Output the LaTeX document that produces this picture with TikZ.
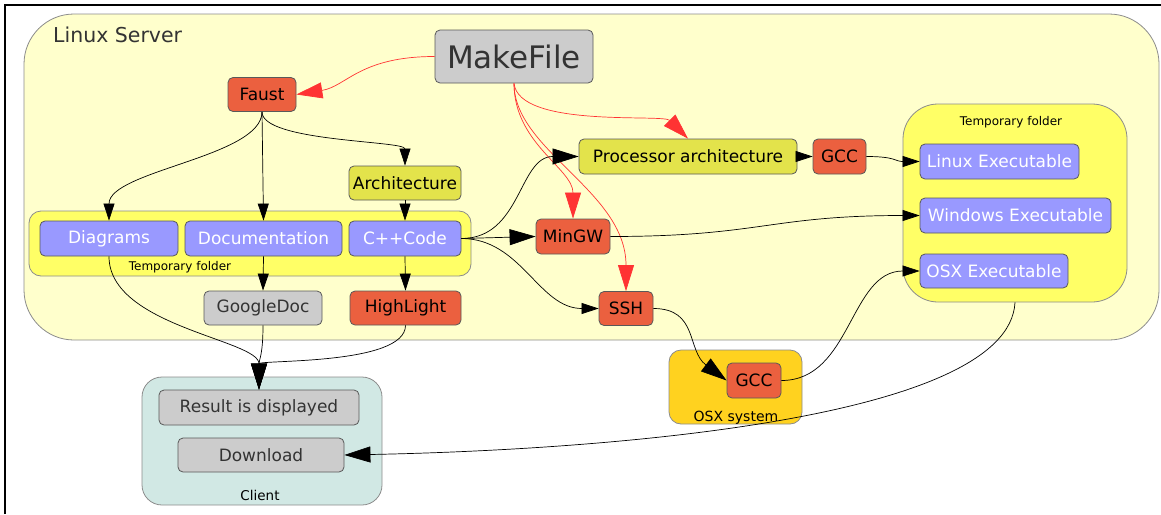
\documentclass[tikz,border=0pt]{standalone}
\usepackage{fontspec}
\setmainfont{DejaVu Sans}
\usetikzlibrary{arrows.meta}
\definecolor{serverfill}{HTML}{FFFFCC}
\definecolor{tmpfill}{HTML}{FFFF66}
\definecolor{bluefill}{HTML}{9999FF}
\definecolor{redfill}{HTML}{EB603F}
\definecolor{olivefill}{HTML}{E3E34B}
\definecolor{grayfill}{HTML}{CCCCCC}
\definecolor{goldfill}{HTML}{FFD21F}
\definecolor{clientfill}{HTML}{D1E8E4}
\definecolor{redline}{HTML}{FF3333}
\definecolor{graytext}{HTML}{333333}
\begin{document}
\begin{tikzpicture}[x=1pt,y=-1pt]
      \tikzstyle{every node}+=[inner sep=0pt]
      \tikzstyle{group}=[draw=black!45,line width=0.8pt]
      \tikzstyle{box}=[draw=black!65,line width=0.8pt,rounded corners=5pt,minimum height=34pt,font=\fontsize{17}{20}\selectfont]
      \tikzstyle{redbox}=[box,fill=redfill]
      \tikzstyle{olivebox}=[box,fill=olivefill]
      \tikzstyle{bluebox}=[box,fill=bluefill,text=white]
      \tikzstyle{graybox}=[box,fill=grayfill,text=graytext]
      \tikzstyle{grouplabel}=[anchor=base,font=\fontsize{12}{14}\selectfont]
      \tikzstyle{link}=[line width=0.7pt,-{Triangle[length=17pt,width=11pt]}]
      \tikzstyle{biglink}=[line width=0.7pt,-{Triangle[length=26pt,width=16pt]}]
      \tikzstyle{redlink}=[biglink,draw=redline]
      \useasboundingbox (0,0) rectangle (1161,514);
      \draw [line width=1.5pt] (5,514) -- (5,5) -- (1161,5);
      \node (server) [group,fill=serverfill,rounded corners=50pt,minimum width=1135pt,minimum height=326pt] at (591.5,177) {};
      \node (serverlabel) [anchor=base west,text=graytext,font=\fontsize{20.5}{24}\selectfont] at (53,42) {Linux Server};
      \node (tmpleft) [group,fill=tmpfill,rounded corners=12pt,minimum width=442pt,minimum height=65pt] at (250,243.5) {};
      \node (tmpleftlabel) [grouplabel] at (180,270) {Temporary folder};
      \node (tmpright) [group,fill=tmpfill,rounded corners=35pt,minimum width=224pt,minimum height=198pt] at (1015,203) {};
      \node (tmprightlabel) [grouplabel] at (1011,125) {Temporary folder};
      \node (osxsys) [group,fill=goldfill,rounded corners=12pt,minimum width=133pt,minimum height=74pt] at (735.5,387) {};
      \node (osxsyslabel) [grouplabel,font=\fontsize{14}{16}\selectfont] at (736,421) {OSX system};
      \node (client) [group,fill=clientfill,rounded corners=20pt,minimum width=240pt,minimum height=128pt] at (262,441) {};
      \node (clientlabel) [grouplabel,font=\fontsize{13.5}{16}\selectfont] at (260,500) {Client};
      \node (makefile) [graybox,minimum width=158pt,minimum height=53pt,font=\fontsize{31}{36}\selectfont] at (514,56.5) {MakeFile};
      \node (faust) [redbox,minimum width=68pt] at (262,94.5) {Faust};
      \node (arch) [olivebox,minimum width=112pt] at (405,183) {Architecture};
      \node (diagrams) [bluebox,minimum width=138pt,minimum height=35pt] at (109,238.5) {Diagrams};
      \node (doc) [bluebox,minimum width=157pt,minimum height=35pt] at (263.5,238.5) {Documentation};
      \node (cpp) [bluebox,minimum width=112pt,minimum height=35pt] at (405,238.5) {C++Code};
      \node (googledoc) [graybox,minimum width=118pt] at (263,308) {GoogleDoc};
      \node (highlight) [redbox,minimum width=111pt] at (405.5,308) {HighLight};
      \node (procarch) [olivebox,minimum width=218pt,minimum height=35pt] at (688,156.5) {Processor architecture};
      \node (gcc) [redbox,minimum width=53pt,minimum height=35pt] at (839.5,156.5) {GCC};
      \node (mingw) [redbox,minimum width=74pt,minimum height=35pt] at (573,236.5) {MinGW};
      \node (ssh) [redbox,minimum width=54pt] at (626,308.5) {SSH};
      \node (linuxexe) [bluebox,minimum width=159pt,minimum height=35pt] at (999.5,161.5) {Linux Executable};
      \node (winexe) [bluebox,minimum width=191pt,minimum height=35pt] at (1015.5,215.5) {Windows Executable};
      \node (osxexe) [bluebox,minimum width=148pt] at (994,271) {OSX Executable};
      \node (osxgcc) [redbox,minimum width=54pt,minimum height=35pt] at (754,380.5) {GCC};
      \node (result) [graybox,minimum width=200pt,minimum height=35pt] at (259,407.5) {Result is displayed};
      \node (download) [graybox,minimum width=166pt] at (261,455) {Download};
      \draw [redlink] (makefile.west) .. controls +(-75,0) and +(50,-8) .. (faust.east);
      \draw [redlink] (makefile.south) .. controls +(5,45) and +(-25,-25) .. (procarch.north);
      \draw [redlink] (makefile.south) .. controls +(0,60) and +(0,-50) .. (mingw.north);
      \draw [redlink] (makefile.south) .. controls +(0,67) and +(0,-100) .. (ssh.north);
      \draw [link] (faust.south) .. controls +(0,45) and +(0,-50) .. (diagrams.north);
      \draw [link] (faust.south) -- (doc.north);
      \draw [link] (faust.south) .. controls +(0,30) and +(0,-25) .. (arch.north);
      \draw [link] (arch.south) -- (cpp.north);
      \draw [link] (doc.south) -- (googledoc.north);
      \draw [link] (cpp.south) -- (highlight.north);
      \draw [biglink] (cpp.east) .. controls +(60,0) and +(-60,0) .. (procarch.west);
      \draw [biglink] (cpp.east) -- (mingw.west);
      \draw [link] (cpp.east) .. controls +(60,0) and +(-60,0) .. (ssh.west);
      \draw [link] (procarch.east) -- (gcc.west);
      \draw [link] (gcc.east) .. controls +(30,0) and +(-25,0) .. (linuxexe.west);
      \draw [link] (mingw.east) .. controls +(150,0) and +(-150,0) .. (winexe.west);
      \draw [biglink] (ssh.east) .. controls +(45,0) and +(-40,-30) .. (osxgcc.west);
      \draw [link] (osxgcc.east) .. controls +(70,0) and +(-70,0) .. (osxexe.west);
      \draw [biglink] (diagrams.south) .. controls +(0,70) and +(0,-50) .. (result.north);
      \draw [biglink] (googledoc.south) .. controls +(0,30) and +(0,-30) .. (result.north);
      \draw [biglink] (highlight.south) .. controls +(0,40) and +(0,-30) .. (result.north);
      \draw [biglink] (tmpright.south) .. controls +(-6,118) and +(256,-5) .. (download.east);
\end{tikzpicture}
\end{document}
